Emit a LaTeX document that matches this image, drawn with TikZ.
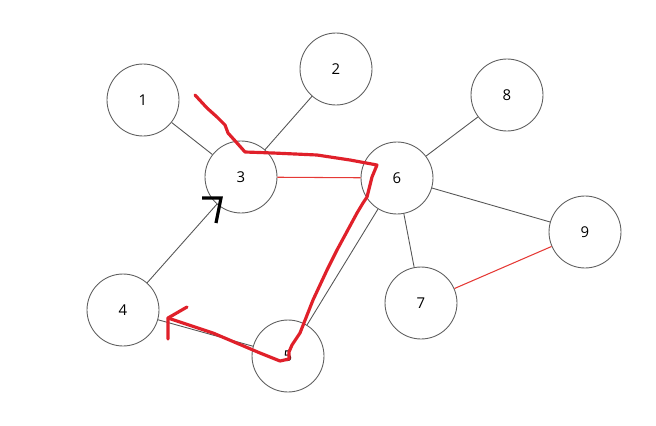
\documentclass[tikz,border=0pt]{standalone}
\usepackage{fontspec}
\setmainfont{Open Sans}
\usepackage{tikz}
\usetikzlibrary{positioning}
\definecolor{Edge}{HTML}{555555}
\definecolor{Ring}{HTML}{5F5F5F}
\definecolor{Link}{HTML}{E53935}
\definecolor{Pen}{HTML}{E0202A}

\begin{document}
\begin{tikzpicture}[x=0.02cm,y=-0.02cm,
  vert/.style={circle,draw=Ring,line width=0.5pt,minimum size=1.44cm,inner sep=0pt,font=\fontsize{8.5}{10}\selectfont},
  edge/.style={Edge,line width=0.5pt},
  hot/.style={Link,line width=0.6pt},
  pen/.style={Pen,line width=1.8pt,line cap=round,line join=round}]
  \useasboundingbox (0,0) rectangle (656,426);
  % vertices
  \node[vert] (n1) at (143,100) {1};
  \node[vert] (n2) at (336,69) {2};
  \node[vert] (n3) at (241,177) {3};
  \node[vert] (n4) at (123,310) {4};
  \node[vert] (n5) at (288,356) {5};
  \node[vert] (n6) at (397,178) {6};
  \node[vert] (n7) at (421,303) {7};
  \node[vert] (n8) at (507,95) {8};
  \node[vert] (n9) at (585,232) {9};
  % edges
  \draw[edge] (n1) -- (n3);
  \draw[edge] (n2) -- (n3);
  \draw[edge] (n4) -- (n3);
  \draw[edge] (n4) -- (n5);
  \draw[edge] (n5) -- (n6);
  \draw[edge] (n6) -- (n8);
  \draw[edge] (n6) -- (n9);
  \draw[edge] (n6) -- (n7);
  \draw[hot] (n3) -- (n6);
  \draw[hot] (n7) -- (n9);
  % hand marks
  \draw[pen] (195,95) -- (207,108) -- (217,117) -- (225,125) -- (228,133) -- (237,143) -- (245,152)
    -- (273,153) -- (317,155) -- (350,160) -- (377,165) -- (372,177) -- (367,197) -- (363,203)
    -- (357,213) -- (337,250) -- (327,270) -- (313,300) -- (300,333) -- (292,345) -- (289,352)
    -- (289,359) -- (280,361) -- (260,353) -- (213,333) -- (168,318);
  \draw[pen] (187,307) -- (168,318) -- (168,339);
  \draw[black,line width=1.8pt,line join=miter] (202,198) -- (221,198) -- (216,223);
\end{tikzpicture}
\end{document}
